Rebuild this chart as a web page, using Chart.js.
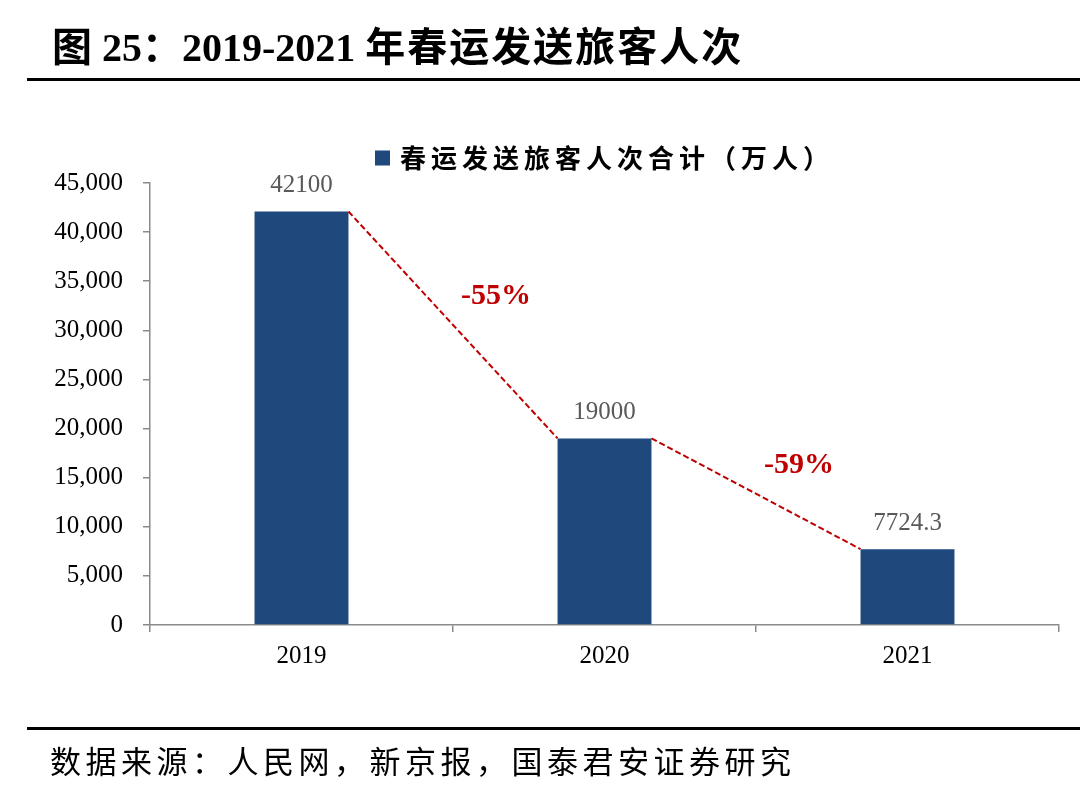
<!DOCTYPE html>
<html lang="zh">
<head>
<meta charset="UTF-8">
<title>2019-2021 年春运发送旅客人次</title>
<script src="https://cdn.jsdelivr.net/npm/chart.js"></script>
<style>
  html, body { margin: 0; padding: 0; background: #fff; }
  body { width: 1080px; height: 807px; position: relative; overflow: hidden; }
  .title {
    position: absolute; left: 52px; top: 24px;
    font: bold 40px "Liberation Serif", "Noto Sans CJK SC", serif;
    color: #000; white-space: nowrap; line-height: 48px;
  }
  .title .cjk { letter-spacing: 2px; }
  .rule { position: absolute; left: 27px; right: 0; height: 3px; background: #000; }
  .source {
    position: absolute; left: 50px; top: 740px;
    font: 31px "Noto Sans CJK SC", sans-serif; letter-spacing: 4.5px;
    color: #000; white-space: nowrap; line-height: 40px;
  }
  #wrap { position: absolute; left: 0; top: 0; width: 1080px; height: 807px; }
</style>
</head>
<body>
<div id="wrap"><canvas id="chart"></canvas></div>
<div class="title">图 25：2019-2021 <span class="cjk">年春运发送旅客人次</span></div>
<div class="rule" style="top:78px"></div>
<div class="rule" style="top:727px"></div>
<div class="source">数据来源：人民网，新京报，国泰君安证券研究</div>

<script>
    // data
    const years = ['2019', '2020', '2021'];
    const passengers = [42100, 19000, 7724.3];
    const changeLabels = ['-55%', '-59%'];
    const seriesName = '春运发送旅客人次合计（万人）';

    const barColor = '#1F497D';
    const axisColor = '#8A8A8A';
    const red = '#C00000';
    const serif = '"Liberation Serif", "Times New Roman", serif';

    // value labels, dashed connectors, change labels, legend
    const overlay = {
        id: 'overlay',
        afterDatasetsDraw(chart) {
            const ctx = chart.ctx;
            const bars = chart.getDatasetMeta(0).data;
            ctx.save();

            // values above bars
            ctx.fillStyle = '#595959';
            ctx.font = '25px ' + serif;
            ctx.textAlign = 'center';
            ctx.textBaseline = 'middle';
            bars.forEach((b, i) => {
                ctx.fillText(String(passengers[i]), b.x, b.y - 26);
            });

            // dashed lines between bar tops
            ctx.strokeStyle = red;
            ctx.lineWidth = 2;
            ctx.setLineDash([6, 3]);
            for (let i = 0; i < bars.length - 1; i++) {
                const a = bars[i], c = bars[i + 1];
                const x1 = a.x + a.width / 2, y1 = a.y;
                const x2 = c.x - c.width / 2, y2 = c.y;
                ctx.beginPath();
                ctx.moveTo(x1, y1);
                ctx.lineTo(x2, y2);
                ctx.stroke();

                ctx.fillStyle = red;
                ctx.font = 'bold 30px ' + serif;
                ctx.fillText(changeLabels[i], (x1 + x2) / 2 + 43, (y1 + y2) / 2 - 29);
            }
            ctx.setLineDash([]);

            // legend
            const area = chart.chartArea;
            ctx.font = 'bold 26px "Noto Sans CJK SC", sans-serif';
            ctx.letterSpacing = '5px';
            const tw = ctx.measureText(seriesName).width;
            const box = 15, gap = 10;
            const startX = (area.left + area.right) / 2 - (box + gap + tw) / 2;
            const cy = 158;
            ctx.fillStyle = barColor;
            ctx.fillRect(startX, cy - box / 2, box, box);
            ctx.fillStyle = '#000';
            ctx.textAlign = 'left';
            ctx.fillText(seriesName, startX + box + gap, cy);
            ctx.restore();
        }
    };

    new Chart(document.getElementById('chart'), {
        type: 'bar',
        data: {
            labels: years,
            datasets: [{
                label: seriesName,
                data: passengers,
                backgroundColor: barColor,
                barPercentage: 0.31,
                categoryPercentage: 1
            }]
        },
        options: {
            responsive: true,
            maintainAspectRatio: false,
            animation: false,
            layout: { padding: { top: 183, right: 21, left: 0, bottom: 0 } },
            plugins: {
                legend: { display: false },
                tooltip: { enabled: false }
            },
            scales: {
                x: {
                    afterFit(scale) { scale.height = 182; },
                    grid: { offset: true, drawOnChartArea: false, drawTicks: true, tickLength: 7, color: axisColor, lineWidth: 1.5 },
                    border: { color: axisColor, width: 1.5 },
                    ticks: { color: '#000', font: { family: serif, size: 25 }, padding: 9 }
                },
                y: {
                    min: 0,
                    max: 45000,
                    afterFit(scale) { scale.width = 150; },
                    grid: { drawOnChartArea: false, drawTicks: true, tickLength: 7, color: axisColor, lineWidth: 1.5 },
                    border: { color: axisColor, width: 1.5 },
                    ticks: {
                        stepSize: 5000,
                        color: '#000',
                        font: { family: serif, size: 25 },
                        padding: 20,
                        callback: v => v.toLocaleString('en-US')
                    }
                }
            }
        },
        plugins: [overlay]
    });
</script>
</body>
</html>
